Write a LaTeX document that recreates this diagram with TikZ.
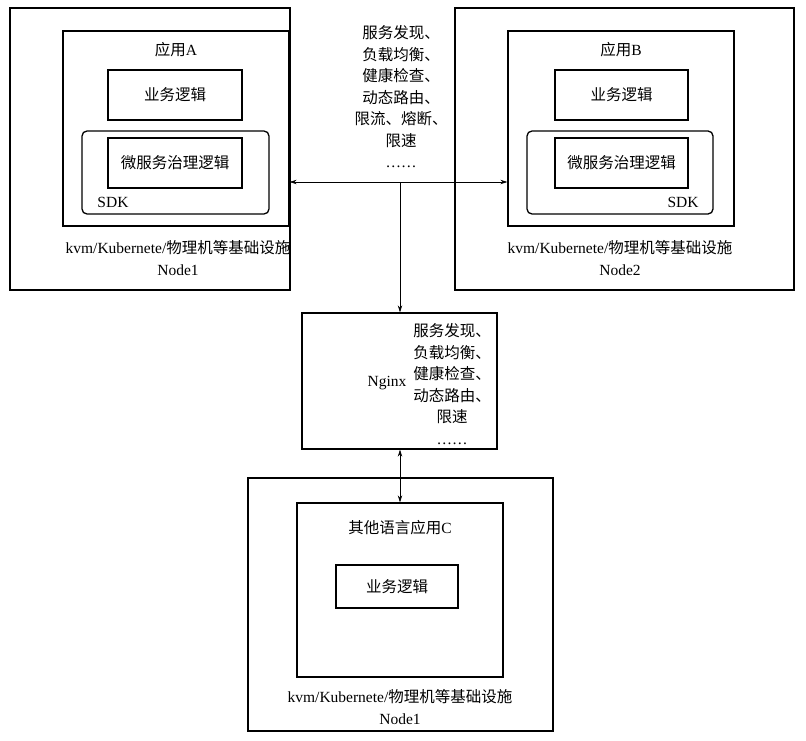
\documentclass[tikz,border=0pt]{standalone}
\usepackage{fontspec}
\setmainfont{Liberation Serif}
\newfontfamily\cjk{Noto Sans CJK SC}
\usetikzlibrary{arrows.meta}
\newcommand{\zh}[1]{{\cjk #1}}

\begin{document}
\begin{tikzpicture}[x=1pt, y=-1pt, >={Stealth[length=7pt, width=4.5pt]},
  font=\fontsize{15.5pt}{21.5pt}\selectfont,
  box/.style={draw, line width=1.3pt, inner sep=0pt},
  sdk/.style={box, rounded corners=5pt},
  txt/.style={inner sep=0pt, align=center},
  link/.style={line width=0.7pt}]
  \useasboundingbox (0,0) rectangle (806,741);

  % Node1, left
  \node[box, minimum width=280pt, minimum height=282pt] (n1) at (150,149) {};
  \node[box, minimum width=226pt, minimum height=195pt] (appA) at (176,128.5) {};
  \node[txt] (titleA) at (176,50) {\zh{应用}A};
  \node[box, minimum width=134pt, minimum height=50pt] (bizA) at (175,95) {\zh{业务逻辑}};
  \node[sdk, minimum width=187pt, minimum height=83pt] (sdkA) at (175.5,172.5) {};
  \node[box, minimum width=134pt, minimum height=50pt] (govA) at (175,163) {\zh{微服务治理逻辑}};
  \node[txt] (sdkAl) at (113,202) {SDK};
  \node[txt] (infA) at (178,258) {kvm/Kubernete/\zh{物理机等基础设施}\\Node1};

  % Node2, right
  \node[box, minimum width=339pt, minimum height=282pt] (n2) at (624.5,149) {};
  \node[box, minimum width=226pt, minimum height=195pt] (appB) at (621,128.5) {};
  \node[txt] (titleB) at (621,50) {\zh{应用}B};
  \node[box, minimum width=133pt, minimum height=50pt] (bizB) at (621.5,95) {\zh{业务逻辑}};
  \node[sdk, minimum width=186pt, minimum height=83pt] (sdkB) at (620,172.5) {};
  \node[box, minimum width=133pt, minimum height=50pt] (govB) at (621.5,163) {\zh{微服务治理逻辑}};
  \node[txt] (sdkBl) at (683,202) {SDK};
  \node[txt] (infB) at (620,258) {kvm/Kubernete/\zh{物理机等基础设施}\\Node2};

  % governance functions
  \node[txt] (svc) at (401,97) {\zh{服务发现、}\\\zh{负载均衡、}\\\zh{健康检查、}\\\zh{动态路由、}\\\zh{限流、熔断、}\\\zh{限速}\\……};

  % Nginx
  \node[box, minimum width=195pt, minimum height=136pt] (nginx) at (399.5,381) {};
  \node[txt] (ngl) at (387,383) {Nginx};
  \node[txt, font=\fontsize{15.5pt}{21.6pt}\selectfont] (ngsvc) at (452,384) {\zh{服务发现、}\\\zh{负载均衡、}\\\zh{健康检查、}\\\zh{动态路由、}\\\zh{限速}\\……};

  % Node1, bottom
  \node[box, minimum width=305pt, minimum height=253pt] (n3) at (400.5,604.5) {};
  \node[box, minimum width=206pt, minimum height=174pt] (appC) at (400,590) {};
  \node[txt] (titleC) at (400,528) {\zh{其他语言应用}C};
  \node[box, minimum width=122pt, minimum height=43pt] (bizC) at (397,586.5) {\zh{业务逻辑}};
  \node[txt] (infC) at (400,707) {kvm/Kubernete/\zh{物理机等基础设施}\\Node1};

  % connectors
  \coordinate (hub) at (400,182);
  \draw[link, ->] (hub) -- (appA.east |- hub);
  \draw[link, ->] (hub) -- (appB.west |- hub);
  \draw[link, ->] (hub) -- (hub |- nginx.north);
  \draw[link, <->] (nginx.south -| hub) -- (appC.north -| hub);
\end{tikzpicture}
\end{document}
